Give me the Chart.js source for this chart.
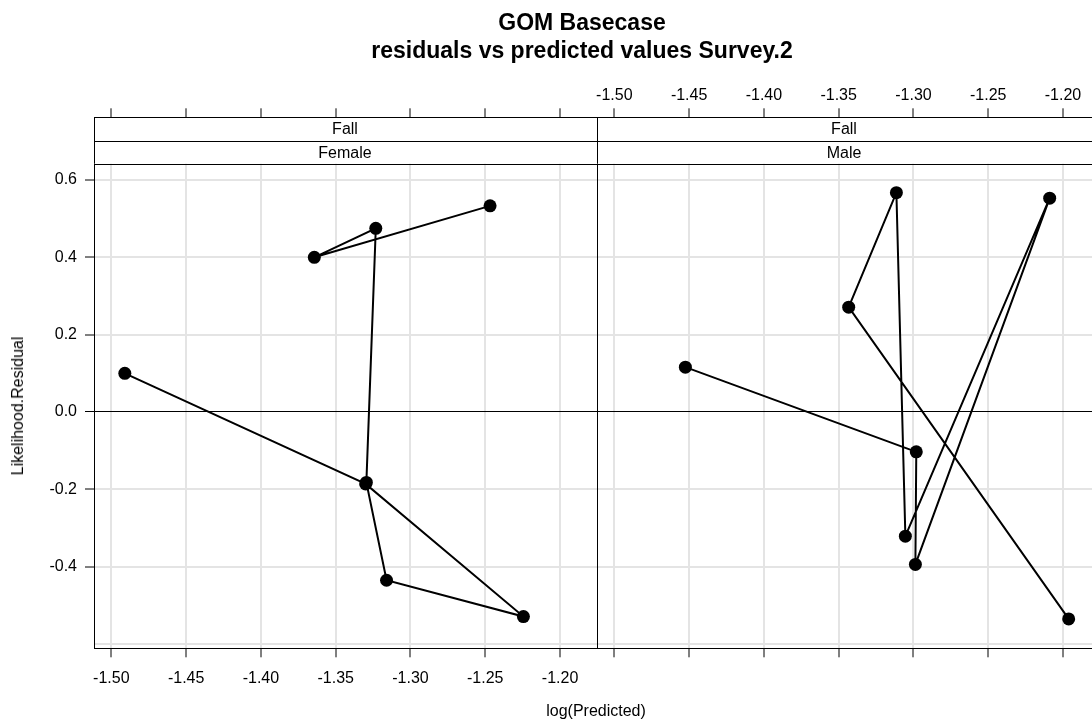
<!DOCTYPE html>
<html>
<head>
<meta charset="utf-8">
<script src="https://cdn.jsdelivr.net/npm/chart.js@4.4.1/dist/chart.umd.min.js"></script>
<style>
    body { margin: 0; background: #fff; }
    #wrap { position: relative; width: 1092px; height: 721px; overflow: hidden; background: #fff;
            font-family: "Liberation Sans", Arial, sans-serif; color: #000; }
    #wrap canvas { position: absolute; top: 0; }
    #cl { left: 0; }
    #cr { left: 596px; }
    .txt { position: absolute; white-space: nowrap; transform: translateX(-50%); line-height: 1; }
</style>
</head>
<body>
<div id="wrap">
    <canvas id="cl" width="597" height="721"></canvas>
    <canvas id="cr" width="496" height="721"></canvas>
    <div class="txt" style="left:582px; top:11px; font-size:23px; font-weight:bold;">GOM Basecase</div>
    <div class="txt" style="left:582px; top:39px; font-size:23px; font-weight:bold;">residuals vs predicted values Survey.2</div>
    <div class="txt" style="left:596px; top:703px; font-size:16px;">log(Predicted)</div>
    <div class="txt" style="left:18px; top:406px; font-size:16px; transform:translate(-50%,-50%) rotate(-90deg);">Likelihood.Residual</div>
</div>
<script>
// 数据: 每个面板按数据顺序连线 (type="b")
const femaleX = [-1.491, -1.330, -1.2245, -1.316, -1.3295, -1.3232, -1.3643, -1.2468];
const femaleY = [0.100, -0.186, -0.529, -0.435, -0.182, 0.475, 0.400, 0.533];
const maleX = [-1.4525, -1.2981, -1.2987, -1.2089, -1.3054, -1.3114, -1.3433, -1.1962];
const maleY = [0.116, -0.103, -0.394, 0.553, -0.321, 0.567, 0.271, -0.535];

const xTicks = [-1.50, -1.45, -1.40, -1.35, -1.30, -1.25, -1.20];
const yTicks = [-0.6, -0.4, -0.2, 0.0, 0.2, 0.4, 0.6];
const yTickLabels = ['', '-0.4', '-0.2', '0.0', '0.2', '0.4', '0.6'];
const stripTop = 'Fall';
const stripNames = ['Female', 'Male'];

// 轴范围 (含条带区域)
const xMin = -1.5116;
const xMaxLeft = -1.1753;
const xMaxRight = -1.1806;
const yMin = -0.611;
const yMax = 0.762;

const FONT = { family: '"Liberation Sans", Arial, sans-serif', size: 16 };
const GRID = '#e4e4e4';
const STRIP_H = 23.2;

const toPoints = (xs, ys) => xs.map((x, i) => ({ x: x, y: ys[i] }));

// 去掉 Chart.js 为首尾刻度标签预留的边距, 让两个面板无缝拼接
const noPad = s => { s.paddingLeft = 0; s.paddingRight = 0; s.paddingTop = 0; s.paddingBottom = 0; };

const stripPlugin = {
    id: 'strips',
    afterDraw(chart) {
        const { ctx, chartArea } = chart;
        const opts = chart.options.plugins.strips;
        const l = chartArea.left, r = chartArea.right, t = chartArea.top;
        ctx.save();
        ctx.fillStyle = '#fff';
        ctx.fillRect(l, t, r - l, STRIP_H * 2);
        ctx.strokeStyle = '#000';
        ctx.lineWidth = 1;
        ctx.beginPath();
        [t, t + STRIP_H, t + STRIP_H * 2].forEach(y => {
            ctx.moveTo(l, Math.round(y) + 0.5);
            ctx.lineTo(r, Math.round(y) + 0.5);
        });
        ctx.moveTo(Math.round(l) + 0.5, t);
        ctx.lineTo(Math.round(l) + 0.5, t + STRIP_H * 2);
        ctx.stroke();
        ctx.fillStyle = '#000';
        ctx.font = '16px "Liberation Sans", Arial, sans-serif';
        ctx.textAlign = 'center';
        ctx.textBaseline = 'middle';
        ctx.fillText(stripTop, opts.cx, t + STRIP_H / 2 + 1);
        ctx.fillText(opts.name, opts.cx, t + STRIP_H * 1.5 + 1);
        ctx.restore();
    }
};

function makeXAxis(position, showLabels, xMax, fitHeight, pad) {
    return {
        type: 'linear', position: position, min: xMin, max: xMax,
        afterBuildTicks: s => { s.ticks = xTicks.map(v => ({ value: v })); },
        afterFit: s => { s.height = fitHeight; noPad(s); },
        ticks: { display: showLabels, font: FONT, color: '#000', padding: pad, maxRotation: 0,
                 callback: v => v.toFixed(2) },
        grid: { display: true, drawOnChartArea: position === 'bottom', color: GRID, lineWidth: 2,
                drawTicks: true, tickLength: 9, tickColor: '#000', tickWidth: 1 },
        border: { display: true, color: '#000', width: 1 }
    };
}

function makeYAxis(showLabels, fitWidth) {
    return {
        type: 'linear', position: 'left', min: yMin, max: yMax,
        afterBuildTicks: s => { s.ticks = yTicks.map(v => ({ value: v })); },
        afterFit: s => { s.width = fitWidth; noPad(s); },
        ticks: { display: showLabels, font: FONT, color: '#000', padding: 8,
                 callback: (v, i) => yTickLabels[i] },
        grid: {
            color: c => (c.tick && c.tick.value === 0) ? '#000' : GRID,
            lineWidth: c => (c.tick && c.tick.value === 0) ? 1 : 2,
            drawTicks: showLabels, tickLength: 9, tickWidth: 1,
            tickColor: c => (c.tick && c.tick.value === -0.6) ? 'rgba(0,0,0,0)' : '#000'
        },
        border: { display: true, color: '#000', width: 1 }
    };
}

function makePanel(canvasId, pts, cfg) {
    return new Chart(document.getElementById(canvasId), {
        type: 'scatter',
        data: {
            datasets: [{
                data: pts, showLine: true, tension: 0,
                borderColor: '#000', borderWidth: 2,
                pointRadius: 6.5, pointHoverRadius: 6.5,
                pointBackgroundColor: '#000', pointBorderColor: '#000', pointBorderWidth: 0,
                xAxisID: 'x', yAxisID: 'y'
            }]
        },
        options: {
            responsive: false, animation: false, events: [],
            layout: { padding: 0, autoPadding: false },
            plugins: { legend: { display: false }, tooltip: { enabled: false }, title: { display: false },
                       strips: { name: cfg.name, cx: cfg.cx } },
            scales: {
                x: makeXAxis('bottom', cfg.bottomLabels, cfg.xMax, 72.7, 12),
                x2: makeXAxis('top', cfg.topLabels, cfg.xMax, 117.3, 3),
                y: makeYAxis(cfg.yLabels, cfg.yWidth)
            }
        },
        plugins: [stripPlugin]
    });
}

makePanel('cl', toPoints(femaleX, femaleY), {
    name: stripNames[0], cx: 345, xMax: xMaxLeft, bottomLabels: true, topLabels: false, yLabels: true, yWidth: 94
});
makePanel('cr', toPoints(maleX, maleY), {
    name: stripNames[1], cx: 248, xMax: xMaxRight, bottomLabels: false, topLabels: true, yLabels: false, yWidth: 1
});
</script>
</body>
</html>
